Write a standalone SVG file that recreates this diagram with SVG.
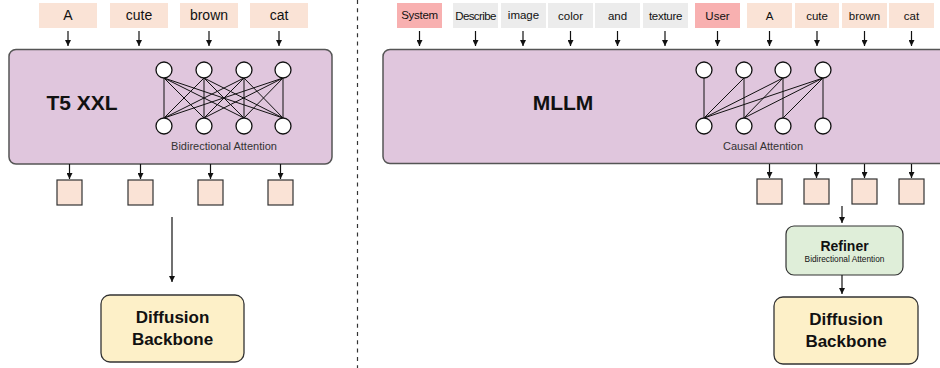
<svg xmlns="http://www.w3.org/2000/svg" width="940" height="368" viewBox="0 0 940 368">
<style>
text{font-family:"Liberation Sans",Arial,sans-serif;fill:#111}
.tok{font-size:14px;text-anchor:middle}
.tokr{font-size:11.5px;text-anchor:middle}
.peach{fill:#fae3d6}
.gray{fill:#ececec}
.red{fill:#f8b0b0}
.sq{fill:#fae3d6;stroke:#333;stroke-width:1.2}
.big{fill:#e0c6dd;stroke:#555;stroke-width:1.5}
.circ{fill:#fff;stroke:#111;stroke-width:1.3}
.ln{stroke:#111;stroke-width:1;fill:none}
.ar{stroke:#111;stroke-width:1.2;fill:none;marker-end:url(#ah)}
.title{font-weight:bold;text-anchor:middle}
.cap{font-size:11px;text-anchor:middle;fill:#333}
</style>
<defs>
<marker id="ah" viewBox="0 0 10 10" refX="10" refY="5" markerWidth="6" markerHeight="6" markerUnits="userSpaceOnUse" orient="auto">
<path d="M0,0 L10,5 L0,10 z" fill="#111"/>
</marker>
</defs>

<line x1="357.5" y1="0" x2="357.5" y2="368" stroke="#333" stroke-width="1.2" stroke-dasharray="4 4.3"/>

<!-- Left panel tokens -->
<g id="tokL-A"><rect class="peach" x="39" y="3" width="58" height="25"/><text class="tok" x="68" y="20">A</text></g>
<g id="tokL-cute"><rect class="peach" x="110" y="3" width="58" height="25"/><text class="tok" x="139" y="20">cute</text></g>
<g id="tokL-brown"><rect class="peach" x="180" y="3" width="58" height="25"/><text class="tok" x="209" y="20">brown</text></g>
<g id="tokL-cat"><rect class="peach" x="250" y="3" width="58" height="25"/><text class="tok" x="279" y="20">cat</text></g>

<g id="t5">
<rect class="big" x="9" y="49.5" width="323" height="114.5" rx="7"/>
<text class="title" x="82" y="110" font-size="21">T5 XXL</text>
<g class="ln">
<path d="M164,78 L164,118 M164,78 L204,118 M164,78 L244,118 M164,78 L283,118
M204,78 L164,118 M204,78 L204,118 M204,78 L244,118 M204,78 L283,118
M244,78 L164,118 M244,78 L204,118 M244,78 L244,118 M244,78 L283,118
M283,78 L164,118 M283,78 L204,118 M283,78 L244,118 M283,78 L283,118"/>
</g>
<circle class="circ" cx="164" cy="70" r="8"/><circle class="circ" cx="204" cy="70" r="8"/><circle class="circ" cx="244" cy="70" r="8"/><circle class="circ" cx="283" cy="70" r="8"/>
<circle class="circ" cx="164" cy="126" r="8"/><circle class="circ" cx="204" cy="126" r="8"/><circle class="circ" cx="244" cy="126" r="8"/><circle class="circ" cx="283" cy="126" r="8"/>
<text class="cap" x="224" y="150">Bidirectional Attention</text>
</g>

<g id="outL">
<rect class="sq" x="57" y="180" width="25" height="25"/>
<rect class="sq" x="128" y="180" width="25" height="25"/>
<rect class="sq" x="198" y="180" width="25" height="25"/>
<rect class="sq" x="268" y="180" width="25" height="25"/>
</g>

<g id="diffL">
<rect x="101" y="295" width="143" height="67" rx="9" fill="#fdf0c8" stroke="#333" stroke-width="1.3"/>
<text class="title" x="172.5" y="323" font-size="17">Diffusion</text>
<text class="title" x="172.5" y="345" font-size="17">Backbone</text>
</g>

<!-- Right panel tokens -->
<g id="tokR-System"><rect class="red" x="397" y="3" width="45" height="25"/><text class="tokr" x="419.5" y="19" letter-spacing="-0.3">System</text></g>
<g id="tokR-Describe"><rect class="gray" x="453" y="3" width="45" height="25"/><text class="tokr" x="475.5" y="20" letter-spacing="-0.6">Describe</text></g>
<g id="tokR-image"><rect class="gray" x="501" y="3" width="45" height="25"/><text class="tokr" x="523.5" y="19">image</text></g>
<g id="tokR-color"><rect class="gray" x="548" y="3" width="45" height="25"/><text class="tokr" x="570.5" y="20">color</text></g>
<g id="tokR-and"><rect class="gray" x="595" y="3" width="45" height="25"/><text class="tokr" x="617.5" y="20">and</text></g>
<g id="tokR-texture"><rect class="gray" x="643" y="3" width="45" height="25"/><text class="tokr" x="665.5" y="20" letter-spacing="-0.3">texture</text></g>
<g id="tokR-User"><rect class="red" x="695" y="3" width="45" height="25"/><text class="tokr" x="717.5" y="20">User</text></g>
<g id="tokR-A"><rect class="peach" x="747" y="3" width="45" height="25"/><text class="tokr" x="769.5" y="20">A</text></g>
<g id="tokR-cute"><rect class="peach" x="795" y="3" width="44" height="25"/><text class="tokr" x="817" y="20">cute</text></g>
<g id="tokR-brown"><rect class="peach" x="842" y="3" width="45" height="25"/><text class="tokr" x="864.5" y="20">brown</text></g>
<g id="tokR-cat"><rect class="peach" x="889" y="3" width="45" height="25"/><text class="tokr" x="911.5" y="20">cat</text></g>

<g id="mllm">
<rect class="big" x="383" y="49.5" width="580" height="114" rx="7"/>
<text class="title" x="563" y="110" font-size="21">MLLM</text>
<g class="ln">
<path d="M704,78 L704,118 M744,78 L704,118 M783,78 L704,118 M823,78 L704,118
M744,78 L744,118 M783,78 L744,118 M823,78 L744,118
M783,78 L783,118 M823,78 L783,118
M823,78 L823,118"/>
</g>
<circle class="circ" cx="704" cy="70" r="8"/><circle class="circ" cx="744" cy="70" r="8"/><circle class="circ" cx="783" cy="70" r="8"/><circle class="circ" cx="823" cy="70" r="8"/>
<circle class="circ" cx="704" cy="126" r="8"/><circle class="circ" cx="744" cy="126" r="8"/><circle class="circ" cx="783" cy="126" r="8"/><circle class="circ" cx="823" cy="126" r="8"/>
<text class="cap" x="763" y="150">Causal Attention</text>
</g>

<g id="outR">
<rect class="sq" x="757" y="179" width="25" height="25"/>
<rect class="sq" x="804" y="179" width="25" height="25"/>
<rect class="sq" x="852" y="179" width="25" height="25"/>
<rect class="sq" x="899" y="179" width="25" height="25"/>
</g>

<g id="refiner">
<rect x="786" y="226" width="117" height="49" rx="8" fill="#dfeed9" stroke="#333" stroke-width="1.2"/>
<text class="title" x="844.5" y="251" font-size="14">Refiner</text>
<text x="844.5" y="262" font-size="8.3" text-anchor="middle" fill="#333">Bidirectional Attention</text>
</g>

<g id="diffR">
<rect x="774" y="297" width="144" height="67" rx="9" fill="#fdf0c8" stroke="#333" stroke-width="1.3"/>
<text class="title" x="846" y="325" font-size="17">Diffusion</text>
<text class="title" x="846" y="347" font-size="17">Backbone</text>
</g>

<g id="connectors">
<line class="ar" x1="68" y1="31" x2="68" y2="46"/>
<line class="ar" x1="139" y1="31" x2="139" y2="46"/>
<line class="ar" x1="209" y1="31" x2="209" y2="46"/>
<line class="ar" x1="279" y1="31" x2="279" y2="46"/>
<line class="ar" x1="69.5" y1="164" x2="69.5" y2="179"/>
<line class="ar" x1="140.5" y1="164" x2="140.5" y2="179"/>
<line class="ar" x1="210.5" y1="164" x2="210.5" y2="179"/>
<line class="ar" x1="280.5" y1="164" x2="280.5" y2="179"/>
<line class="ar" x1="172" y1="217" x2="172" y2="282"/>
<line class="ar" x1="419.5" y1="31" x2="419.5" y2="46"/>
<line class="ar" x1="475.5" y1="31" x2="475.5" y2="46"/>
<line class="ar" x1="523" y1="31" x2="523" y2="46"/>
<line class="ar" x1="570.5" y1="31" x2="570.5" y2="46"/>
<line class="ar" x1="617.5" y1="31" x2="617.5" y2="46"/>
<line class="ar" x1="665" y1="31" x2="665" y2="46"/>
<line class="ar" x1="717.5" y1="31" x2="717.5" y2="46"/>
<line class="ar" x1="769.5" y1="31" x2="769.5" y2="46"/>
<line class="ar" x1="817" y1="31" x2="817" y2="46"/>
<line class="ar" x1="864.5" y1="31" x2="864.5" y2="46"/>
<line class="ar" x1="911.5" y1="31" x2="911.5" y2="46"/>
<line class="ar" x1="769.5" y1="164" x2="769.5" y2="178"/>
<line class="ar" x1="816.5" y1="164" x2="816.5" y2="178"/>
<line class="ar" x1="864.5" y1="164" x2="864.5" y2="178"/>
<line class="ar" x1="911.5" y1="164" x2="911.5" y2="178"/>
<line class="ar" x1="842" y1="206" x2="842" y2="223"/>
<line class="ar" x1="842" y1="275" x2="842" y2="294"/>
</g>
</svg>
